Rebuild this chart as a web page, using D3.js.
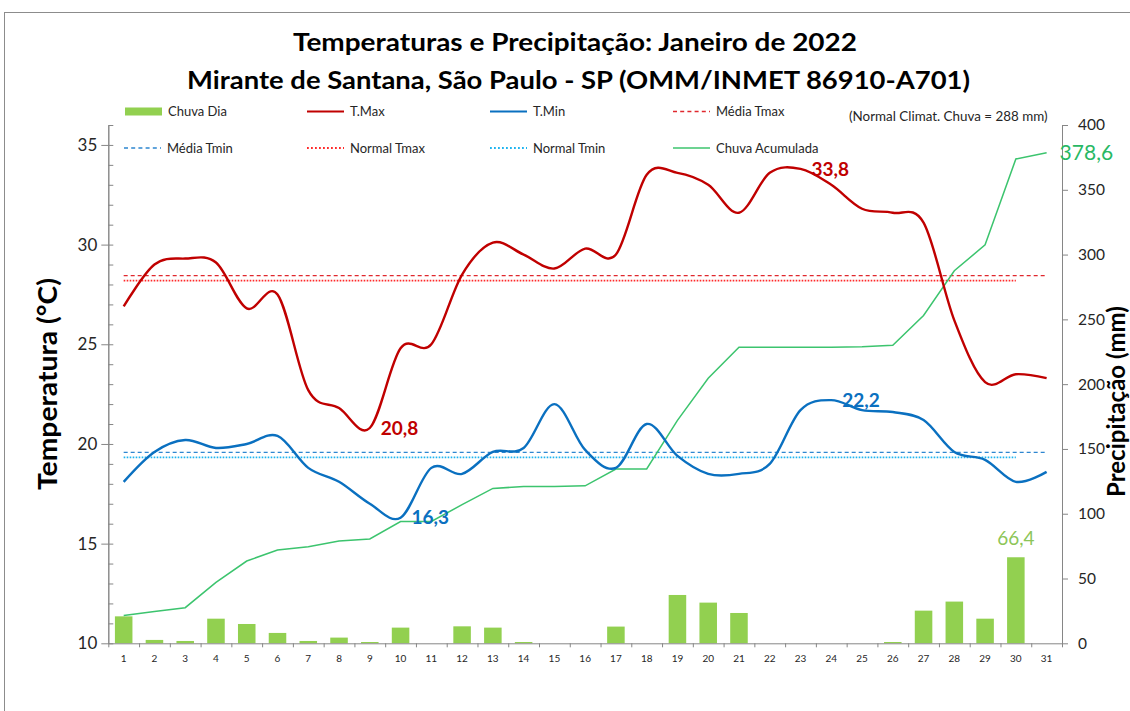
<!DOCTYPE html>
<html lang="pt">
<head>
<meta charset="UTF-8">
<title>Temperaturas e Precipitação: Janeiro de 2022</title>
<style>
  body { margin: 0; background: #fff; }
  svg { display: block; font-family: Lato, "Open Sans", sans-serif; }
  .axis path, .axis line { stroke: #868686; stroke-width: 1; }
  .axis text { fill: #262626; font-family: Lato, sans-serif; }
</style>
</head>
<body>
<svg width="1130" height="711"></svg>

<script src="https://cdn.jsdelivr.net/npm/d3@7"></script>
<script>

  // dias do mes
  var days = [1, 2, 3, 4, 5, 6, 7, 8, 9, 10, 11, 12, 13, 14, 15, 16,
              17, 18, 19, 20, 21, 22, 23, 24, 25, 26, 27, 28, 29, 30, 31];

  var tMax = [26.9, 29.0, 29.3, 29.1, 26.8, 27.5, 22.7, 21.8, 20.8, 24.8, 25.0,
              28.5, 30.1, 29.5, 28.8, 29.8, 29.5, 33.5, 33.6, 33.0, 31.6, 33.6,
              33.8, 33.0, 31.8, 31.6, 31.1, 26.2, 23.1, 23.5, 23.3];

  var tMin = [18.1, 19.6, 20.2, 19.8, 20.0, 20.4, 18.8, 18.1, 17.0, 16.3, 18.8,
              18.5, 19.6, 19.8, 22.0, 19.7, 18.8, 21.0, 19.4, 18.5, 18.5, 19.0,
              21.7, 22.2, 21.7, 21.6, 21.2, 19.6, 19.2, 18.1, 18.6];

  var chuvaDia = [20.8, 2.6, 1.8, 19.0, 14.9, 8.0, 1.8, 4.4, 1.0, 12.1, 0,
                  13.1, 12.1, 1.0, 0, 0, 12.9, 0, 37.3, 31.4, 23.4, 0,
                  0, 0, 0, 1.0, 25.2, 32.2, 19.0, 66.4, 0];

  var chuvaAcum = [21.5, 24.5, 27.5, 47.0, 63.5, 72.0, 74.5, 79.0, 80.5, 94.0, 94.0,
                   107.0, 119.5, 121.0, 121.0, 121.5, 134.5, 134.5, 172.0, 204.5, 228.5, 228.5,
                   228.5, 228.5, 228.8, 230.0, 253.0, 287.5, 307.5, 373.8, 378.6];

  var mediaTmax = 28.44;
  var normalTmax = 28.19;
  var mediaTmin = 19.58;
  var normalTmin = 19.33;
  var normalChuva = 288;

  var tempTicks = [10, 15, 20, 25, 30, 35];
  var rainTicks = [0, 50, 100, 150, 200, 250, 300, 350, 400];

  var translate = function(x, y) { return "translate(" + x + "," + y + ")"; };
  var fmt = function(v) { return d3.format(".1f")(v).replace(".", ","); };

  var svg = d3.select("svg");
  var plot = {left: 108.3, right: 1062, top: 125, bottom: 643.3};

  var x = d3.scaleBand().domain(days).range([plot.left, plot.right]);
  var xMid = function(d) { return x(d) + x.bandwidth() / 2; };
  var xEdge = d3.scaleLinear().domain([0, days.length]).range([plot.left, plot.right]);
  var yTemp = d3.scaleLinear().domain([10, 36]).range([plot.bottom, plot.top]);
  var yRain = d3.scaleLinear().domain([0, 400]).range([plot.bottom, plot.top]);

  // moldura
  svg.append("rect")
    .attr("x", 4.5).attr("y", 12.5)
    .attr("width", 1200).attr("height", 720)
    .attr("fill", "none").attr("stroke", "#8c8c8c");

  // titulo
  svg.append("text")
    .attr("x", 575).attr("y", 51)
    .attr("text-anchor", "middle")
    .attr("textLength", 564).attr("lengthAdjust", "spacingAndGlyphs")
    .style("font-size", "25px").style("font-weight", "bold")
    .text("Temperaturas e Precipitação: Janeiro de 2022");

  svg.append("text")
    .attr("x", 578.5).attr("y", 89)
    .attr("text-anchor", "middle")
    .attr("textLength", 783).attr("lengthAdjust", "spacingAndGlyphs")
    .style("font-size", "25px").style("font-weight", "bold")
    .text("Mirante de Santana, São Paulo - SP (OMM/INMET 86910-A701)");

  // barras de chuva diaria
  var barW = x.bandwidth() * 0.57;
  svg.append("g")
    .selectAll("rect")
    .data(days)
    .enter()
    .append("rect")
    .attr("x", function(d) { return xMid(d) - barW / 2; })
    .attr("y", function(d, i) { return yRain(chuvaDia[i]); })
    .attr("width", barW)
    .attr("height", function(d, i) { return yRain(0) - yRain(chuvaDia[i]); })
    .attr("fill", "#92d050");

  // eixos
  svg.append("g")
    .attr("class", "axis")
    .attr("transform", translate(0, plot.bottom))
    .call(d3.axisBottom(xEdge).tickValues(d3.range(0, days.length + 1)).tickSize(4).tickSizeOuter(0).tickFormat(""));

  var xLabels = svg.append("g")
    .attr("class", "axis")
    .attr("transform", translate(0, plot.bottom))
    .call(d3.axisBottom(x).tickSize(0).tickPadding(12));
  xLabels.select(".domain").remove();
  xLabels.selectAll("text").style("font-size", "10px");

  var leftAxis = svg.append("g")
    .attr("class", "axis")
    .attr("transform", translate(plot.left, 0))
    .call(d3.axisLeft(yTemp).tickValues(tempTicks).tickSize(7).tickSizeOuter(0).tickPadding(4));
  leftAxis.selectAll("text").style("font-size", "17px");

  svg.append("g")
    .attr("class", "axis")
    .attr("transform", translate(plot.left, 0))
    .call(d3.axisRight(yTemp).tickValues(d3.range(10, 37)).tickSize(5).tickSizeOuter(0).tickFormat(""));

  var rightAxis = svg.append("g")
    .attr("class", "axis")
    .attr("transform", translate(plot.right, 0))
    .call(d3.axisRight(yRain).tickValues(rainTicks).tickSize(6).tickSizeOuter(0).tickPadding(10));
  rightAxis.selectAll("text").style("font-size", "15.5px");

  // titulos dos eixos
  svg.append("text")
    .attr("transform", translate(57, 384) + " rotate(-90)")
    .attr("text-anchor", "middle")
    .attr("textLength", 212).attr("lengthAdjust", "spacingAndGlyphs")
    .style("font-size", "26px").style("font-weight", "bold")
    .text("Temperatura (°C)");

  svg.append("text")
    .attr("transform", translate(1125, 497) + " rotate(-90)")
    .attr("text-anchor", "start")
    .style("font-size", "24px").style("font-weight", "bold")
    .text("Precipitação (mm)");

  // linhas de media e normal
  var hLine = function(value, nDays, color, dash, width) {
    svg.append("line")
      .attr("x1", xMid(days[0]))
      .attr("x2", xMid(days[nDays - 1]))
      .attr("y1", yTemp(value))
      .attr("y2", yTemp(value))
      .attr("stroke", color)
      .attr("stroke-width", width)
      .attr("stroke-dasharray", dash);
  };
  hLine(mediaTmax, 31, "#e0282e", "4,3", 1.3);
  hLine(normalTmax, 30, "#ff2a2a", "1.6,1.4", 1.8);
  hLine(mediaTmin, 31, "#2e86d0", "4,3", 1.3);
  hLine(normalTmin, 30, "#1fb4f0", "1.6,1.4", 1.8);

  // chuva acumulada
  var lineRain = d3.line()
    .x(function(d, i) { return xMid(days[i]); })
    .y(function(d) { return yRain(d); });

  svg.append("path")
    .attr("d", lineRain(chuvaAcum))
    .attr("fill", "none")
    .attr("stroke", "#3cc46e")
    .attr("stroke-width", 1.5);

  // temperaturas
  var lineTemp = d3.line()
    .x(function(d, i) { return xMid(days[i]); })
    .y(function(d) { return yTemp(d); })
    .curve(d3.curveCardinal.tension(0));

  svg.append("path")
    .attr("d", lineTemp(tMax))
    .attr("fill", "none")
    .attr("stroke", "#c00000")
    .attr("stroke-width", 2.4);

  svg.append("path")
    .attr("d", lineTemp(tMin))
    .attr("fill", "none")
    .attr("stroke", "#0a70c0")
    .attr("stroke-width", 2.4);

  // rotulos de valores extremos
  var tempLabel = function(vals, idx, color) {
    svg.append("text")
      .attr("x", xMid(days[idx]) + 11)
      .attr("y", yTemp(vals[idx]))
      .attr("dy", "0.35em")
      .attr("fill", color)
      .style("font-size", "19px").style("font-weight", "bold")
      .text(fmt(vals[idx]));
  };
  tempLabel(tMax, d3.maxIndex(tMax), "#c00000");
  tempLabel(tMax, d3.minIndex(tMax), "#c00000");
  tempLabel(tMin, d3.maxIndex(tMin), "#0a70c0");
  tempLabel(tMin, d3.minIndex(tMin), "#0a70c0");

  var iRain = d3.maxIndex(chuvaDia);
  svg.append("text")
    .attr("x", xMid(days[iRain]))
    .attr("y", yRain(chuvaDia[iRain]) - 12)
    .attr("text-anchor", "middle")
    .attr("fill", "#8cc558")
    .style("font-size", "19px")
    .text(fmt(chuvaDia[iRain]));

  var iLast = chuvaAcum.length - 1;
  svg.append("text")
    .attr("x", xMid(days[iLast]) + 13)
    .attr("y", yRain(chuvaAcum[iLast]))
    .attr("dy", "0.35em")
    .attr("fill", "#28b864")
    .style("font-size", "21px")
    .text(fmt(chuvaAcum[iLast]));

  // legenda
  var legendItems = [
    {label: "Chuva Dia", kind: "bar", color: "#92d050", x: 125, y: 111.5},
    {label: "T.Max", kind: "line", color: "#c00000", x: 307, y: 111.5},
    {label: "T.Min", kind: "line", color: "#0a70c0", x: 490, y: 111.5},
    {label: "Média Tmax", kind: "dash", color: "#e0282e", x: 673, y: 111.5},
    {label: "Média Tmin", kind: "dash", color: "#2e86d0", x: 124, y: 148},
    {label: "Normal Tmax", kind: "dot", color: "#ff2a2a", x: 307, y: 148},
    {label: "Normal Tmin", kind: "dot", color: "#1fb4f0", x: 490, y: 148},
    {label: "Chuva Acumulada", kind: "thin", color: "#3cc46e", x: 673, y: 148}
  ];

  var legend = svg.append("g").attr("class", "legend");
  legendItems.forEach(function(item) {
    var g = legend.append("g").attr("transform", translate(item.x, item.y));
    if (item.kind === "bar") {
      g.append("rect").attr("x", 0).attr("y", -4).attr("width", 37).attr("height", 8).attr("fill", item.color);
    } else {
      g.append("line")
        .attr("x1", 0).attr("x2", 37).attr("y1", 0).attr("y2", 0)
        .attr("stroke", item.color)
        .attr("stroke-width", item.kind === "line" ? 2.2 : (item.kind === "dot" ? 1.8 : 1.4))
        .attr("stroke-dasharray", item.kind === "dash" ? "4,3.2" : (item.kind === "dot" ? "1.8,2.2" : null));
    }
    g.append("text")
      .attr("x", 43).attr("y", 0).attr("dy", "0.35em")
      .attr("fill", "#262626")
      .style("font-size", "13px")
      .text(item.label);
  });

  svg.append("text")
    .attr("x", 849).attr("y", 116).attr("dy", "0.35em")
    .attr("fill", "#262626")
    .style("font-size", "13.4px")
    .text("(Normal Climat. Chuva = " + normalChuva + " mm)");

</script>
</body>
</html>
